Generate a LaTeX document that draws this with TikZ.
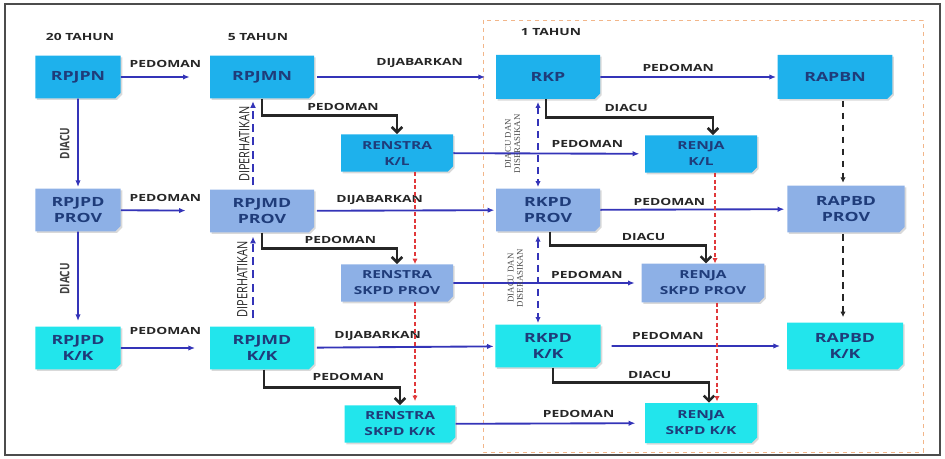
\documentclass[tikz,border=0pt]{standalone}
\usepackage{fontspec}
\setmainfont{Open Sans}
\newfontfamily\widefont[FakeStretch=1.4]{Open Sans}
\newfontfamily\tipisfont{Liberation Serif}
\usetikzlibrary{arrows.meta, calc, shapes.misc, shadows}
\definecolor{nasional}{HTML}{1EB1EC}
\definecolor{provinsi}{HTML}{8DB0E6}
\definecolor{kabkota}{HTML}{22E5EC}
\definecolor{teks}{HTML}{1F3C7A}
\definecolor{panah}{HTML}{3434B8}
\definecolor{merah}{HTML}{E0393B}
\definecolor{oranye}{HTML}{F2B68A}

\begin{document}
\begin{tikzpicture}[x=0.75pt, y=-0.75pt,
  box/.style={chamfered rectangle, chamfered rectangle corners=south east, chamfered rectangle sep=2pt, inner sep=1pt, align=center, text=teks, font=\widefont\bfseries\fontsize{9.5}{12}\selectfont, minimum height=32pt, drop shadow={shadow xshift=1.2pt, shadow yshift=-1.2pt, opacity=.3}},
  sub/.style={box, font=\widefont\bfseries\fontsize{8.3}{12}\selectfont, minimum height=28pt},
  nas/.style={fill=nasional}, prov/.style={fill=provinsi}, kk/.style={fill=kabkota},
  lbl/.style={font=\widefont\bfseries\fontsize{7.4}{9}\selectfont, text=black!85, inner sep=1pt},
  rlbl/.style={font=\bfseries\fontsize{7.5}{9}\selectfont, rotate=90, yscale=1.3, inner sep=0pt, text=black!75},
  plbl/.style={rlbl, font=\fontsize{8.2}{9}\selectfont, text=black!85},
  slbl/.style={font=\tipisfont\fontsize{6.6}{7}\selectfont, rotate=90, inner sep=0pt, align=center, text=black!70},
  biru/.style={-{Latex[length=5pt,width=4pt]}, draw=panah, line width=1.4pt},
  hitam/.style={-{Straight Barb[length=4pt,width=8pt]}, draw=black!85, line width=1.9pt},
  birudash/.style={-{Latex[length=5pt,width=4.5pt]}, draw=panah, line width=2pt, dash pattern=on 6pt off 4pt},
  biru2/.style={{Latex[length=4.5pt,width=4pt]}-{Latex[length=4.5pt,width=4pt]}, draw=panah, line width=1.7pt, dash pattern=on 5pt off 4pt},
  hitamdash/.style={-{Latex[length=4pt,width=4pt]}, draw=black!85, line width=2.2pt, dash pattern=on 5pt off 4pt},
  merahdash/.style={-{Latex[length=4pt,width=4pt]}, draw=merah, line width=1.5pt, dash pattern=on 3pt off 2pt}]
\useasboundingbox (0,0) rectangle (945,459);
\draw[black!70, line width=1.5pt] (5,4) rectangle (940,455);
\draw[oranye, dashed] (483,20) rectangle (923,452);

\node[lbl](th20) at (80,37){20 TAHUN};
\node[lbl](th5) at (258,37){5 TAHUN};
\node[lbl](th1) at (551,32){1 TAHUN};

\node[box, nas, minimum width=64pt](rpjpn) at (78,77){RPJPN};
\node[box, prov, minimum width=64pt](rpjpdprov) at (78,210){RPJPD\\PROV};
\node[box, kk, minimum width=64pt](rpjpdkk) at (78,348){RPJPD\\K/K};
\node[box, nas, minimum width=78pt](rpjmn) at (262,77){RPJMN};
\node[box, prov, minimum width=78pt](rpjmdprov) at (262,211){RPJMD\\PROV};
\node[box, kk, minimum width=78pt](rpjmdkk) at (262,348){RPJMD\\K/K};
\node[sub, nas, minimum width=84pt](renstrakl) at (397,153){RENSTRA\\K/L};
\node[sub, prov, minimum width=84pt](renstraskpdprov) at (397,283){RENSTRA\\SKPD PROV};
\node[sub, kk, minimum width=83pt](renstraskpdkk) at (400,424){RENSTRA\\SKPD K/K};
\node[box, nas, minimum width=78pt, minimum height=33pt](rkp) at (548,77){RKP};
\node[box, prov, minimum width=78pt](rkpdprov) at (548,210){RKPD\\PROV};
\node[box, kk, minimum width=79pt](rkpdkk) at (548,346){RKPD\\K/K};
\node[sub, nas, minimum width=84pt](renjakl) at (701,154){RENJA\\K/L};
\node[sub, prov, minimum width=92pt, minimum height=29pt](renjaskpdprov) at (703,283){RENJA\\SKPD PROV};
\node[sub, kk, minimum width=84pt, minimum height=30pt](renjaskpdkk) at (701,423){RENJA\\SKPD K/K};
\node[box, nas, minimum width=86pt, minimum height=33pt](rapbn) at (835,77){RAPBN};
\node[box, prov, minimum width=88pt, minimum height=35pt](rapbdprov) at (846,209){RAPBD\\PROV};
\node[box, kk, minimum width=87pt, minimum height=35pt](rapbdkk) at (845,346){RAPBD\\K/K};

\path (rpjpn) edge[biru, shorten >=15pt] node[lbl, above=5pt] {PEDOMAN} (rpjmn);
\path (rpjmn) edge[biru, shorten <=2pt, shorten >=8pt] node[lbl, pos=.58, above=5pt] {DIJABARKAN} (rkp);
\path (rkp) edge[biru, shorten >=1pt] node[lbl, pos=.44, above=2pt] {PEDOMAN} (rapbn);
\path (renstrakl) edge[biru, shorten >=4pt] node[lbl, pos=.7, above=3pt] {PEDOMAN} (renjakl);
\path (rpjpdprov) edge[biru, shorten >=18pt] node[lbl, above=5pt] {PEDOMAN} (rpjmdprov);
\path (rpjmdprov) edge[biru, shorten <=2pt, shorten >=1pt] node[lbl, pos=.36, above=3pt] {DIJABARKAN} (rkpdprov);
\path (rkpdprov) edge[biru, shorten >=2pt] node[lbl, pos=.37, above=1pt] {PEDOMAN} (rapbdprov);
\path (renstraskpdprov) edge[biru, shorten >=5pt] node[lbl, pos=.71, above=1.5pt] {PEDOMAN} (renjaskpdprov);
\path (rpjpdkk) edge[biru, shorten >=11pt] node[lbl, above=8pt] {PEDOMAN} (rpjmdkk);
\path (rpjmdkk) edge[biru, shorten <=2pt, shorten >=1pt] node[lbl, pos=.35, above=3pt] {DIJABARKAN} (rkpdkk);
\path (rkpdkk) edge[biru, shorten <=8pt, shorten >=5pt] node[lbl, pos=.36, above=3pt] {PEDOMAN} (rapbdkk);
\path (renstraskpdkk) edge[biru, shorten >=7pt] node[lbl, pos=.65, above=3pt] {PEDOMAN} (renjaskpdkk);

\path (rpjpn) edge[biru, shorten >=1pt] node[xshift=-10pt, rlbl] {DIACU} (rpjpdprov);
\path (rpjpdprov) edge[biru, shorten >=4pt] node[xshift=-10pt, rlbl] {DIACU} (rpjpdkk);

\draw[hitam] (rpjmn.south) -- ++(0,17) -| node[lbl, pos=.3, above=2pt] {PEDOMAN} (renstrakl.north);
\draw[hitam] (rpjmdprov.south) -- ++(0,16) -| node[lbl, pos=.29, above=2pt] {PEDOMAN} (renstraskpdprov.north);
\draw[hitam] ($(rpjmdkk.south)+(2,0)$) -- ++(0,18) -| node[lbl, pos=.31, above=3pt] {PEDOMAN} (renstraskpdkk.north);
\draw[hitam] ($(rkp.south)+(-2,0)$) -- ++(0,18) -| node[lbl, pos=.24, above=2pt] {DIACU} ($(renjakl.north)+(12,0)$);
\draw[hitam] ($(rkpdprov.south)+(2,0)$) -- ++(0,14) -| node[lbl, pos=.3, above=1.5pt] {DIACU} ($(renjaskpdprov.north)+(3,0)$);
\draw[hitam] ($(rkpdkk.south)+(5,0)$) -- ++(0,15) -| node[lbl, pos=.31, above=1pt] {DIACU} ($(renjaskpdkk.north)+(8,0)$);

\path ($(rpjmdprov.north)+(-9,0)$) edge[birudash, shorten <=3pt, shorten >=2pt] node[xshift=-6.5pt, plbl] {DIPERHATIKAN} ($(rpjmn.south)+(-9,0)$);
\path ($(rpjmdkk.north)+(-9,0)$) edge[birudash, shorten <=6pt, shorten >=3pt] node[xshift=-8pt, plbl] {DIPERHATIKAN} ($(rpjmdprov.south)+(-9,0)$);
\path ($(rkp.south)+(-10,0)$) edge[biru2, shorten <=2pt, shorten >=1pt] node[xshift=-19pt, slbl] {DIACU DAN\\DISERASIKAN} ($(rkpdprov.north)+(-10,0)$);
\path ($(rkpdprov.south)+(-10,0)$) edge[biru2, shorten <=3pt, shorten >=1pt] node[xshift=-17pt, slbl] {DIACU DAN\\DISERASIKAN} ($(rkpdkk.north)+(-10,0)$);

\path ($(rapbn.south)+(8,0)$) edge[hitamdash, shorten <=1pt, shorten >=2pt] ($(rapbdprov.north)+(-3,0)$);
\path ($(rapbdprov.south)+(-3,0)$) edge[hitamdash, shorten <=1pt, shorten >=4pt] ($(rapbdkk.north)+(-2,0)$);

\path ($(renstrakl.south)+(18,0)$) edge[merahdash] ($(renstraskpdprov.north)+(18,0)$);
\path ($(renstraskpdprov.south)+(18,0)$) edge[merahdash, shorten >=3pt] ($(renstraskpdkk.north)+(15,0)$);
\path ($(renjakl.south)+(14,0)$) edge[merahdash] ($(renjaskpdprov.north)+(12,0)$);
\path ($(renjaskpdprov.south)+(14,0)$) edge[merahdash, shorten >=1pt] ($(renjaskpdkk.north)+(16,0)$);
\end{tikzpicture}
\end{document}
